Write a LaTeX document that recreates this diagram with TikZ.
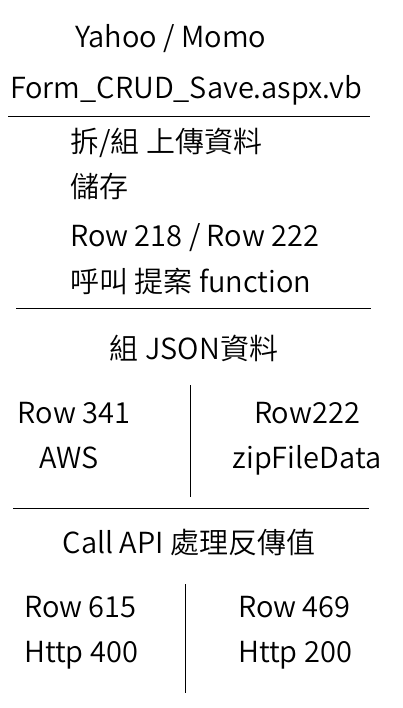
\documentclass[tikz,border=0pt]{standalone}
\usepackage{fontspec}
\setmainfont{Noto Sans CJK TC DemiLight}
\usetikzlibrary{positioning}

\begin{document}
\begin{tikzpicture}[x=1pt,y=-1pt,
  txt/.style={inner sep=0pt,font=\fontsize{29}{34}\selectfont},
  lft/.style={txt,anchor=base west},
  mid/.style={txt,anchor=base}]
\useasboundingbox (0,0) rectangle (403,708);
% header
\node[mid](file1) at (171,48){Yahoo / Momo};
\node[mid](file2) at (186,99){Form\_CRUD\_Save.aspx.vb};
\coordinate(L1a) at (8,116);
\coordinate(L1b) at (370,116);
\draw(L1a)--(L1b);
% steps
\node[lft](s1) at (70,153){拆/組 上傳資料};
\node[lft](s2) at (70,198){儲存};
\node[lft](s3) at (70,247){Row 218 / Row 222};
\node[lft](s4) at (70,292){呼叫 提案 function};
\coordinate(L2a) at (16,308);
\coordinate(L2b) at (371,308);
\draw(L2a)--(L2b);
% json
\node[mid](json) at (194,359){組 JSON資料};
\node[mid](A1) at (74,423){Row 341};
\node[mid](A2) at (69,468){AWS};
\node[mid](B1) at (307,423){Row222};
\node[mid](B2) at (307,468){zipFileData};
\coordinate(V1a) at (190,385);
\coordinate(V1b) at (190,497);
\draw(V1a)--(V1b);
\coordinate(L3a) at (13,508);
\coordinate(L3b) at (369,508);
\draw(L3a)--(L3b);
% api
\node[mid](api) at (189,553){Call API 處理反傳值};
\node[lft](C1) at (24,617){Row 615};
\node[lft](C2) at (24,662){Http 400};
\node[lft](D1) at (238,617){Row 469};
\node[lft](D2) at (238,662){Http 200};
\coordinate(V2a) at (185,584);
\coordinate(V2b) at (185,693);
\draw(V2a)--(V2b);
\end{tikzpicture}
\end{document}
